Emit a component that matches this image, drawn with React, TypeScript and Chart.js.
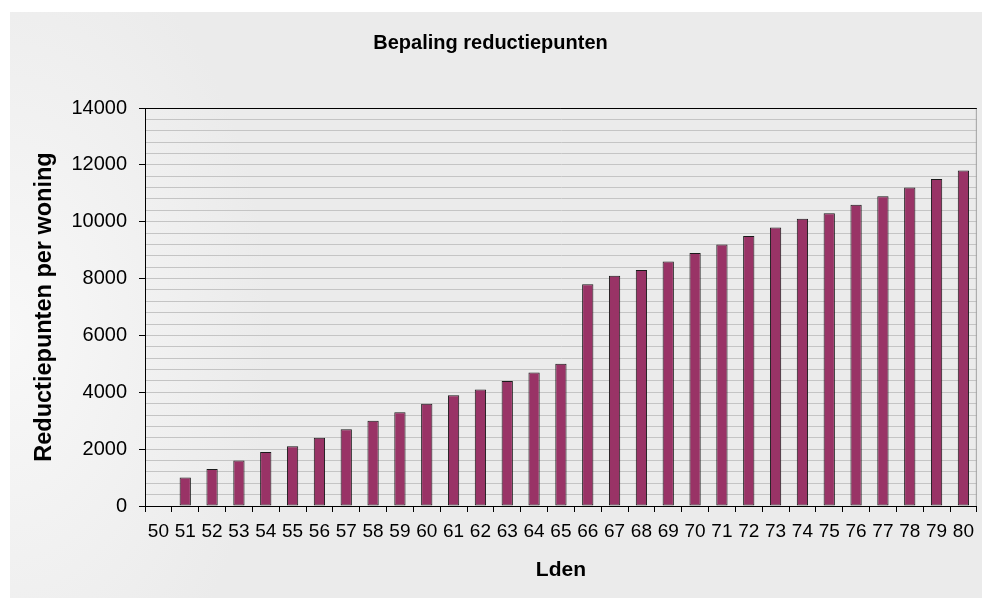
import React, { useEffect, useRef } from "react";
import { Chart, registerables } from "chart.js";

Chart.register(...registerables);

const TITLE = "Bepaling reductiepunten";
const X_TITLE = "Lden";
const Y_TITLE = "Reductiepunten per woning";

const categories = [
  "50", "51", "52", "53", "54", "55", "56", "57", "58", "59", "60",
  "61", "62", "63", "64", "65", "66", "67", "68", "69", "70",
  "71", "72", "73", "74", "75", "76", "77", "78", "79", "80",
];

const reductiepunten = [
  0, 1000, 1300, 1600, 1900, 2100, 2400, 2700, 3000, 3300, 3600,
  3900, 4100, 4400, 4700, 5000, 7800, 8100, 8300, 8600, 8900,
  9200, 9500, 9800, 10100, 10300, 10600, 10900, 11200, 11500, 11800,
];

const Y_MIN = 0;
const Y_MAX = 14000;
const Y_MINOR_STEP = 400;
const Y_MAJOR_STEP = 2000;

const FONT = "'Liberation Sans', Arial, sans-serif";

export default function App() {
  const canvasRef = useRef<HTMLCanvasElement | null>(null);

  useEffect(() => {
    const canvas = canvasRef.current;
    if (!canvas) return;

    const frame = {
      id: "frame",
      afterDatasetsDraw(chart: any) {
        const { ctx, chartArea } = chart;
        ctx.save();
        ctx.strokeStyle = "#a0a0a0";
        ctx.lineWidth = 1;
        ctx.beginPath();
        ctx.moveTo(chartArea.right - 0.5, chartArea.top);
        ctx.lineTo(chartArea.right - 0.5, chartArea.bottom);
        ctx.stroke();
        ctx.strokeStyle = "#000";
        ctx.beginPath();
        ctx.moveTo(chartArea.left, chartArea.top + 0.5);
        ctx.lineTo(chartArea.right, chartArea.top + 0.5);
        ctx.stroke();
        ctx.restore();
      },
    };

    const chart = new Chart(canvas, {
      type: "bar",
      data: {
        labels: categories,
        datasets: [
          {
            label: Y_TITLE,
            data: reductiepunten,
            backgroundColor: "#993366",
            borderColor: "#1a1a1a",
            borderWidth: 1,
            borderSkipped: false,
            barPercentage: 0.42,
            categoryPercentage: 1,
          },
        ],
      },
      options: {
        animation: false,
        responsive: true,
        maintainAspectRatio: false,
        layout: { padding: { top: 0, left: 0, right: 1, bottom: 0 } },
        plugins: {
          legend: { display: false },
          tooltip: { enabled: false },
          title: {
            display: true,
            text: TITLE,
            color: "#000",
            font: { family: FONT, size: 20, weight: "bold" },
            padding: { top: 31, bottom: 53 },
          },
        },
        scales: {
          x: {
            type: "category",
            offset: true,
            grid: {
              offset: true,
              drawOnChartArea: false,
              drawTicks: true,
              tickLength: 6,
              tickColor: "#000",
              color: "#000",
            },
            border: { display: true, color: "#000", width: 1 },
            ticks: {
              color: "#000",
              font: { family: FONT, size: 19 },
              padding: 8,
              autoSkip: false,
              maxRotation: 0,
              minRotation: 0,
            },
            title: {
              display: true,
              text: X_TITLE,
              color: "#000",
              font: { family: FONT, size: 21, weight: "bold" },
              padding: { top: 0, bottom: 15 },
            },
            afterFit(scale: any) {
              scale.height = 92;
            },
          },
          y: {
            type: "linear",
            min: Y_MIN,
            max: Y_MAX,
            afterBuildTicks(scale: any) {
              const t = [];
              for (let v = Y_MIN; v <= Y_MAX; v += Y_MINOR_STEP) t.push({ value: v });
              scale.ticks = t;
            },
            grid: {
              color: "#c4c4c4",
              lineWidth: 1,
              drawTicks: true,
              tickLength: 6,
              tickColor: (ctx: any) =>
                ctx.tick && ctx.tick.value % Y_MAJOR_STEP === 0 ? "#000" : "rgba(0,0,0,0)",
            },
            border: { display: true, color: "#000", width: 1 },
            ticks: {
              color: "#000",
              font: { family: FONT, size: 20 },
              padding: 12,
              autoSkip: false,
              callback: (value: any) => (Number(value) % Y_MAJOR_STEP === 0 ? String(value) : ""),
            },
            title: {
              display: true,
              text: Y_TITLE,
              color: "#000",
              font: { family: FONT, size: 23.5, weight: "bold" },
              padding: { top: 30, bottom: 0 },
            },
            afterFit(scale: any) {
              scale.width = 145;
            },
          },
        },
      },
      plugins: [frame],
    });

    return () => chart.destroy();
  }, []);

  return (
    <div
      style={{
        position: "fixed",
        left: 0,
        top: 0,
        width: 982,
        height: 598,
        background: "#ffffff",
      }}
    >
      <div
        style={{
          position: "absolute",
          left: 10,
          top: 12,
          right: 0,
          bottom: 0,
          background:
            "radial-gradient(ellipse 260px 420px at 0% 55%, #f8f8f8 0%, #f2f2f2 45%, #ebebeb 100%)",
        }}
      />
      <canvas ref={canvasRef} style={{ position: "relative" }} />
    </div>
  );
}
